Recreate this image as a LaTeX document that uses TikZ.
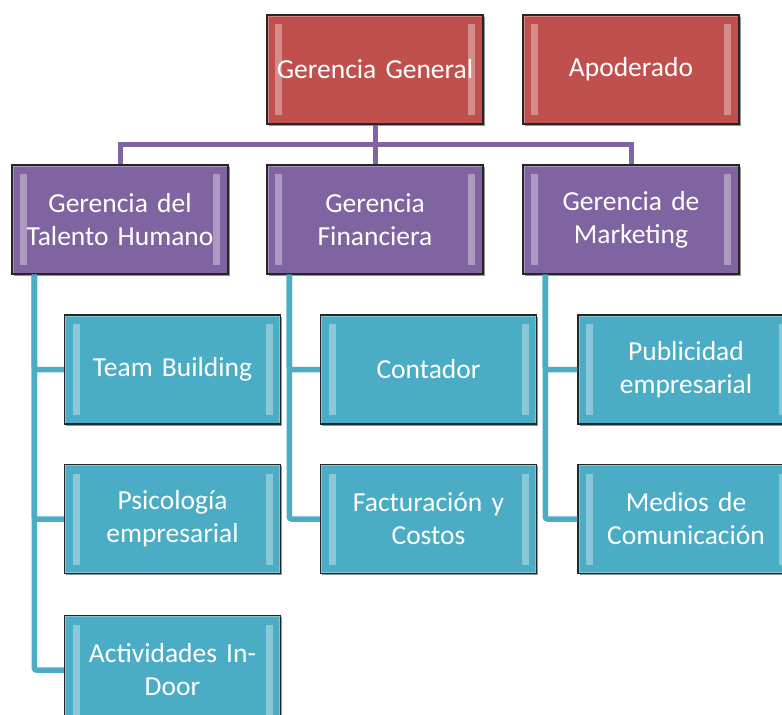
\documentclass[tikz,border=0pt]{standalone}
\usepackage{fontspec}
\setmainfont{Carlito}
\usepackage{xcolor}
\usepackage{tikz}
\usetikzlibrary{positioning, shadows, calc}

\definecolor{redbox}{HTML}{C0504D}
\definecolor{purplebox}{HTML}{8064A2}
\definecolor{tealbox}{HTML}{4BACC6}

\begin{document}
\begin{tikzpicture}[
    x=1pt, y=-1pt,
    font=\fontsize{27.5}{33}\selectfont,
    box/.style={
        rectangle,
        inner sep=2pt,
        minimum width=216pt,
        minimum height=109pt,
        text width=212pt,
        align=center,
        text=white,
        draw=black!85,
        line width=1.2pt,
        fill=#1,
        drop shadow={shadow xshift=1.5pt, shadow yshift=-1.5pt, opacity=0.6, fill=black!70},
        path picture={
            \fill[white, opacity=0.35]
                ([xshift=8pt, yshift=-9pt]path picture bounding box.north west)
                rectangle ([xshift=15pt, yshift=9pt]path picture bounding box.south west);
            \fill[white, opacity=0.35]
                ([xshift=-8pt, yshift=-9pt]path picture bounding box.north east)
                rectangle ([xshift=-15pt, yshift=9pt]path picture bounding box.south east);
            \draw[white, opacity=0.3, line width=3pt]
                (path picture bounding box.north west) rectangle (path picture bounding box.south east);
        }
    },
    purpleline/.style={draw=purplebox, line width=5pt},
    tealline/.style={draw=tealbox, line width=5.5pt, rounded corners=2pt}
]

\useasboundingbox (0,0) rectangle (782,715);
\clip (0,0) rectangle (782,715);

% === TOP LEVEL ===
\node (general) [box=redbox] at (375,69.5) {Gerencia General};
\node (apoderado) [box=redbox] at (631,69.5) {Apoderado};

% === GERENCIAS ===
\node (talento) [box=purplebox] at (120,219.5) {Gerencia del\\Talento Humano};
\node (financiera) [box=purplebox] at (375,219.5) {Gerencia\\Financiera};
\node (marketing) [box=purplebox] at (631,219.5) {Gerencia de\\Marketing};

% === AREAS ===
\node (team) [box=tealbox] at (172.5,369.5) {Team Building};
\node (psico) [box=tealbox] at (172.5,519) {Psicología\\empresarial};
\node (activ) [box=tealbox] at (172.5,670) {Actividades In-\\Door};

\node (contador) [box=tealbox] at (428.5,369.5) {Contador};
\node (factura) [box=tealbox] at (428.5,519) {Facturación y\\Costos};

\node (publi) [box=tealbox] at (686,369.5) {Publicidad\\empresarial};
\node (medios) [box=tealbox] at (686,519) {Medios de\\Comunicación};

% === CONNECTORS ===
\draw [purpleline] (general.south) -- (financiera.north);
\draw [purpleline] (talento.north) -- ++(0,-20) -| (marketing.north);

\draw [tealline] ([xshift=23pt]talento.south west) |- (team.west);
\draw [tealline] ([xshift=23pt]talento.south west) |- (psico.west);
\draw [tealline] ([xshift=23pt]talento.south west) |- (activ.west);

\draw [tealline] ([xshift=23pt]financiera.south west) |- (contador.west);
\draw [tealline] ([xshift=23pt]financiera.south west) |- (factura.west);

\draw [tealline] ([xshift=23pt]marketing.south west) |- (publi.west);
\draw [tealline] ([xshift=23pt]marketing.south west) |- (medios.west);

\end{tikzpicture}
\end{document}
